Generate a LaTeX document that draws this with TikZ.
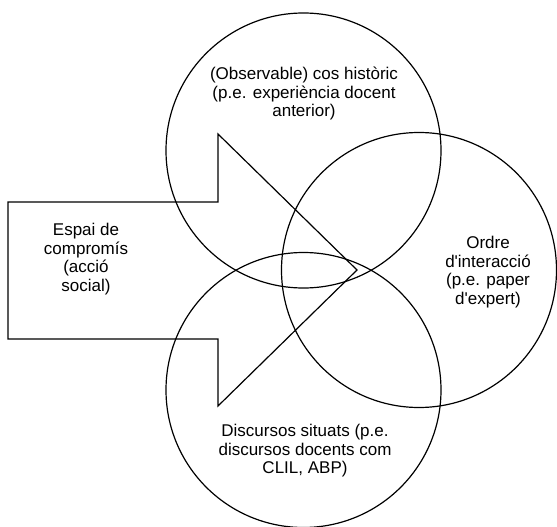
\documentclass[tikz,border=0pt]{standalone}
\usepackage{fontspec}
\setmainfont{Liberation Sans}[Ligatures=TeXOff]
\begin{document}
\begin{tikzpicture}[x=1pt,y=-1pt]

      \useasboundingbox (0,0) rectangle (557,527);

      % the arrow
      \draw[line width=1.2pt, line join=miter]
        (8,202) -- (218,202) -- (218,134) -- (357,270)
        -- (218,406) -- (218,339) -- (8,339) -- cycle;

      \begin{scope}[every node/.style={circle, draw, line width=1.2pt, minimum size=275pt, inner sep=0pt}]
        \node (hist)  at (303.5,150.5) {};
        \node (ordre) at (419,270)     {};
        \node (disc)  at (303.5,390)   {};
      \end{scope}

      \begin{scope}[every node/.style={align=center, inner sep=0pt, font=\fontsize{17}{18.5}\selectfont}]
        \node (histtext)  at (304,94)  {(Observable) cos històric\\(p.e. experiència docent\\anterior)};
        \node (espai)     at (86,259)  {Espai de\\compromís\\(acció\\social)};
        \node (ordretext) at (488,272) {Ordre\\d'interacció\\(p.e. paper\\d'expert)};
        \node (disctext)  at (305,451) {Discursos situats (p.e.\\discursos docents com\\CLIL, ABP)};
      \end{scope}

    \end{tikzpicture}
\end{document}
